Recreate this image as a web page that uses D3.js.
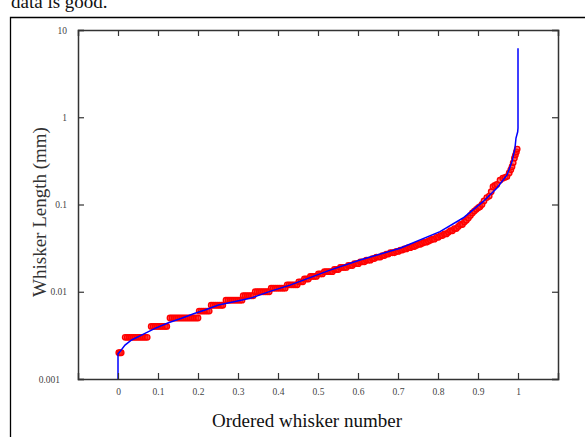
<!DOCTYPE html>
<html>
<head>
<meta charset="utf-8">
<script src="https://cdn.jsdelivr.net/npm/d3@7"></script>
<style>
  html, body { margin: 0; padding: 0; background: #fff; }
  svg { display: block; }
</style>
</head>
<body>
<svg id="chart" width="585" height="437"></svg>
<script>
// ---- data ----
const xTicks = [0, 0.1, 0.2, 0.3, 0.4, 0.5, 0.6, 0.7, 0.8, 0.9, 1];
const xTickLabels = ["0", "0.1", "0.2", "0.3", "0.4", "0.5", "0.6", "0.7", "0.8", "0.9", "1"];
const yTicks = [0.001, 0.01, 0.1, 1, 10];
const yTickLabels = ["0.001", "0.01", "0.1", "1", "10"];

// measured whiskers: ordered rank fraction and length (mm)
const measuredRank = [
  0.002, 0.005, 0.008,
  0.018, 0.023, 0.028, 0.033, 0.038, 0.043, 0.048, 0.053, 0.058, 0.063, 0.068, 0.073,
  0.083, 0.088, 0.093, 0.098, 0.103, 0.108, 0.113, 0.118, 0.122,
  0.13, 0.135, 0.14, 0.145, 0.15, 0.155, 0.16, 0.165, 0.17, 0.175, 0.18, 0.185, 0.19, 0.195, 0.2,
  0.203, 0.208, 0.213, 0.218, 0.223, 0.228,
  0.233, 0.238, 0.243, 0.248, 0.253, 0.258, 0.262,
  0.27, 0.275, 0.28, 0.285, 0.29, 0.295, 0.30, 0.305, 0.31,
  0.313, 0.318, 0.323, 0.328, 0.333, 0.338,
  0.343, 0.348, 0.353, 0.358, 0.363, 0.368, 0.373, 0.378,
  0.383, 0.388, 0.393, 0.398, 0.403, 0.408, 0.413, 0.418,
  0.423, 0.428, 0.433, 0.438, 0.443, 0.448,
  0.452, 0.457, 0.462,
  0.466, 0.471, 0.476,
  0.481, 0.486, 0.491, 0.496,
  0.501, 0.506, 0.511,
  0.516, 0.521, 0.526, 0.531, 0.536,
  0.541, 0.546, 0.551,
  0.556, 0.561, 0.566, 0.571,
  0.576, 0.581, 0.586,
  0.591, 0.596, 0.601,
  0.606, 0.611, 0.616,
  0.621, 0.626, 0.631,
  0.636, 0.641,
  0.646, 0.651, 0.656,
  0.661, 0.666,
  0.671, 0.676,
  0.681, 0.686, 0.691,
  0.696, 0.701,
  0.706, 0.711,
  0.716, 0.721,
  0.726, 0.731,
  0.736, 0.741,
  0.746, 0.751, 0.756, 0.761, 0.766, 0.771, 0.776, 0.781, 0.786, 0.791,
  0.796, 0.801, 0.806, 0.811, 0.816, 0.821, 0.826, 0.831, 0.836, 0.841,
  0.846, 0.851, 0.856, 0.861, 0.866, 0.871, 0.876, 0.881, 0.886, 0.891,
  0.896, 0.901, 0.905, 0.91, 0.915, 0.922, 0.928, 0.933, 0.9375, 0.942,
  0.947, 0.955, 0.962, 0.968, 0.9725, 0.978, 0.982, 0.985, 0.988, 0.991,
  0.9935, 0.996, 0.998
];
const measuredLength = [
  0.002, 0.002, 0.002,
  0.003, 0.003, 0.003, 0.003, 0.003, 0.003, 0.003, 0.003, 0.003, 0.003, 0.003, 0.003,
  0.004, 0.004, 0.004, 0.004, 0.004, 0.004, 0.004, 0.004, 0.004,
  0.005, 0.005, 0.005, 0.005, 0.005, 0.005, 0.005, 0.005, 0.005, 0.005, 0.005, 0.005, 0.005, 0.005, 0.005,
  0.006, 0.006, 0.006, 0.006, 0.006, 0.006,
  0.007, 0.007, 0.007, 0.007, 0.007, 0.007, 0.007,
  0.008, 0.008, 0.008, 0.008, 0.008, 0.008, 0.008, 0.008, 0.008,
  0.009, 0.009, 0.009, 0.009, 0.009, 0.009,
  0.010, 0.010, 0.010, 0.010, 0.010, 0.010, 0.010, 0.010,
  0.011, 0.011, 0.011, 0.011, 0.011, 0.011, 0.011, 0.011,
  0.012, 0.012, 0.012, 0.012, 0.012, 0.012,
  0.013, 0.013, 0.013,
  0.014, 0.014, 0.014,
  0.015, 0.015, 0.015, 0.015,
  0.016, 0.016, 0.016,
  0.017, 0.017, 0.017, 0.017, 0.017,
  0.018, 0.018, 0.018,
  0.019, 0.019, 0.019, 0.019,
  0.020, 0.020, 0.020,
  0.021, 0.021, 0.021,
  0.022, 0.022, 0.022,
  0.023, 0.023, 0.023,
  0.024, 0.024,
  0.025, 0.025, 0.025,
  0.026, 0.026,
  0.027, 0.027,
  0.028, 0.028, 0.028,
  0.029, 0.029,
  0.030, 0.030,
  0.031, 0.031,
  0.032, 0.032,
  0.033, 0.033,
  0.034, 0.035, 0.035, 0.036, 0.037, 0.037, 0.038, 0.039, 0.040, 0.040,
  0.042, 0.042, 0.044, 0.044, 0.046, 0.046, 0.048, 0.050, 0.050, 0.053,
  0.053, 0.056, 0.059, 0.059, 0.063, 0.066, 0.070, 0.075, 0.080, 0.084,
  0.088, 0.092, 0.0945, 0.10, 0.11, 0.12, 0.125, 0.14, 0.16, 0.165,
  0.17, 0.19, 0.20, 0.205, 0.209, 0.23, 0.25, 0.271, 0.30, 0.34,
  0.369, 0.40, 0.432
];

// fitted distribution (blue curve)
const fitRank = [
  0, 0, 0.005, 0.0175, 0.034, 0.0675, 0.0925, 0.126, 0.159, 0.1925, 0.2175,
  0.251, 0.29, 0.33, 0.38, 0.43, 0.48, 0.53, 0.605, 0.705, 0.805, 0.8625,
  0.9125, 0.9475, 0.9725, 0.985, 0.9925, 0.995, 0.99925, 1.0, 1.0
];
const fitLength = [
  0.001, 0.00194, 0.00206, 0.00245, 0.0028, 0.00334, 0.00381, 0.00442, 0.00496, 0.00567, 0.00618,
  0.00705, 0.0077, 0.0084, 0.0101, 0.0119, 0.0145, 0.0177, 0.0231, 0.0315, 0.0488, 0.070,
  0.1077, 0.1545, 0.218, 0.31, 0.445, 0.578, 0.682, 0.753, 6.17
];

// ---- drawing ----
const svg = d3.select("#chart");
const plot = { left: 78, top: 30, right: 558, bottom: 379 };

const x = d3.scaleLinear().domain([-0.1, 1.1]).range([plot.left, plot.right]);
const y = d3.scaleLog().domain([0.001, 10]).range([plot.bottom, plot.top]);

const serif = "'Liberation Serif', 'DejaVu Serif', 'Times New Roman', serif";

// document page elements (text above the figure is cut at the page edge)
svg.append("text")
  .attr("x", 11).attr("y", 8)
  .attr("font-family", serif).attr("font-size", 19)
  .attr("fill", "#111")
  .text("data is good.");

svg.append("path")
  .attr("d", `M10.5,440 V17.5 H590`)
  .attr("fill", "none").attr("stroke", "#000").attr("stroke-width", 1.3);

// clip for the data
svg.append("clipPath").attr("id", "clip")
  .append("rect")
  .attr("x", plot.left).attr("y", plot.top)
  .attr("width", plot.right - plot.left).attr("height", plot.bottom - plot.top);

const pts = measuredRank.map((r, i) => ({ r, v: measuredLength[i] }));
const dataG = svg.append("g").attr("clip-path", "url(#clip)");

dataG.selectAll("circle.m")
  .data(pts)
  .join("circle")
  .attr("class", "m")
  .attr("cx", d => x(d.r))
  .attr("cy", d => y(d.v))
  .attr("r", 2.7)
  .attr("fill", "rgba(255,30,30,0.6)")
  .attr("stroke", "#ff0000")
  .attr("stroke-width", 1.4);

const fit = fitRank.map((r, i) => [r, fitLength[i]]);
dataG.append("path")
  .datum(fit)
  .attr("fill", "none")
  .attr("stroke", "#0000ff")
  .attr("stroke-width", 1.5)
  .attr("d", d3.line().x(d => x(d[0])).y(d => y(d[1])));

// axes (all four sides, ticks inward)
const axisColor = "#333";
const tickLen = 6;

const bottomAxis = d3.axisBottom(x).tickValues(xTicks).tickSize(-tickLen).tickPadding(9)
  .tickFormat((d, i) => xTickLabels[i]);
const topAxis = d3.axisTop(x).tickValues(xTicks).tickSize(-tickLen).tickFormat("");
const leftAxis = d3.axisLeft(y).tickValues(yTicks).tickSize(-tickLen).tickPadding(11)
  .tickFormat((d, i) => yTickLabels[i]);
const rightAxis = d3.axisRight(y).tickValues(yTicks).tickSize(-tickLen).tickFormat("");

function style(g) {
  g.selectAll("path.domain").attr("stroke", axisColor).attr("stroke-width", 1.5);
  g.selectAll(".tick line").attr("stroke", axisColor).attr("stroke-width", 1.2);
  g.selectAll(".tick text").attr("fill", "#444").attr("font-family", serif).attr("font-size", 9.5);
}

svg.append("g").attr("transform", `translate(0,${plot.bottom})`).call(bottomAxis).call(style);
svg.append("g").attr("transform", `translate(0,${plot.top})`).call(topAxis).call(style);
const gl = svg.append("g").attr("transform", `translate(${plot.left},0)`).call(leftAxis).call(style);
svg.append("g").attr("transform", `translate(${plot.right},0)`).call(rightAxis).call(style);

// the lowest y label sits a little further left in the reference
gl.selectAll(".tick text")
  .filter(d => d === 0.001)
  .attr("dx", -7);

// axis titles
svg.append("text")
  .attr("x", 307).attr("y", 427)
  .attr("text-anchor", "middle")
  .attr("font-family", serif).attr("font-size", 19)
  .attr("fill", "#111")
  .text("Ordered whisker number");

svg.append("text")
  .attr("transform", "translate(46,212) rotate(-90)")
  .attr("text-anchor", "middle")
  .attr("font-family", serif).attr("font-size", 19)
  .attr("fill", "#333")
  .text("Whisker Length (mm)");
</script>
</body>
</html>
